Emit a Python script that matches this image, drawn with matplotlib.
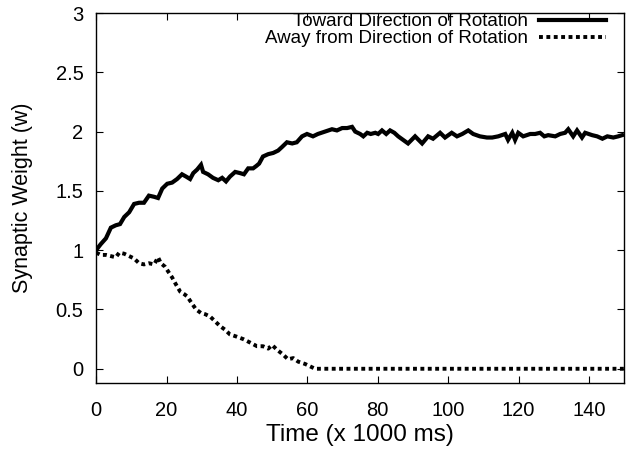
import matplotlib
matplotlib.use("Agg")
import matplotlib.pyplot as plt

plt.rcParams['font.family'] = ['Liberation Sans', 'DejaVu Sans']

# Toward direction of rotation (solid)
toward_t = [0, 1.3, 2.8, 4.2, 5.6, 6.8, 8.0, 9.4, 10.8, 12.2, 13.6, 15.0, 16.5, 17.6,
            18.8, 20.2, 21.6, 23.0, 24.4, 25.6, 26.7, 27.6, 28.7, 29.8, 30.4, 31.8,
            33.2, 34.7, 35.8, 36.9, 38.0, 39.5, 40.9, 42.0, 43.2, 44.6, 45.5, 46.3,
            47.4, 48.9, 50.3, 51.7, 52.8, 54.2, 55.7, 57.0, 58.5, 59.9, 61.6, 63.0,
            65.0, 67.0, 68.4, 69.9, 71.3, 72.7, 73.6, 75.0, 75.9, 77.0, 78.0, 79.3,
            80.1, 81.2, 82.4, 83.5, 84.7, 85.8, 87.2, 88.6, 90.6, 92.6, 94.3, 95.7,
            97.7, 99.1, 101.0, 102.5, 104.0, 105.7, 107.1, 109.0, 111.0, 112.5, 114.2,
            116.2, 117.0, 118.2, 119.0, 119.9, 121.3, 123.3, 124.7, 126.1, 127.3,
            128.4, 130.4, 131.8, 133.2, 134.1, 135.5, 136.6, 138.0, 138.9, 140.9,
            142.3, 143.8, 145.2, 146.9, 148.3, 149.4]
toward_w = [1.00, 1.05, 1.10, 1.19, 1.21, 1.22, 1.28, 1.32, 1.39, 1.40, 1.40, 1.46, 1.45, 1.44,
            1.52, 1.56, 1.57, 1.60, 1.64, 1.62, 1.60, 1.65, 1.68, 1.72, 1.66, 1.64,
            1.61, 1.59, 1.61, 1.58, 1.62, 1.66, 1.65, 1.64, 1.69, 1.69, 1.71, 1.73,
            1.79, 1.81, 1.82, 1.84, 1.87, 1.91, 1.90, 1.91, 1.96, 1.98, 1.96, 1.98,
            2.00, 2.02, 2.01, 2.03, 2.03, 2.04, 2.00, 1.98, 1.96, 1.99, 1.98, 1.99,
            1.98, 2.01, 1.98, 2.01, 1.99, 1.96, 1.93, 1.90, 1.96, 1.90, 1.96, 1.94,
            1.99, 1.95, 1.99, 1.96, 1.98, 2.01, 1.98, 1.96, 1.95, 1.95, 1.96,
            1.98, 1.93, 1.99, 1.93, 1.99, 1.96, 1.98, 1.98, 1.99, 1.96,
            1.97, 1.96, 1.98, 1.99, 2.02, 1.96, 2.01, 1.95, 1.99, 1.97,
            1.96, 1.94, 1.96, 1.95, 1.96, 1.97]

# Away from direction of rotation (dotted)
away_t = [0, 1.3, 2.8, 4.2, 5.6, 6.6, 8.0, 9.4, 10.8, 12.2, 13.6, 15.0, 16.5, 17.6,
          18.4, 19.6, 20.7, 21.6, 22.7, 23.9, 25.0, 25.9, 27.0, 28.4, 29.8, 31.0,
          32.4, 33.8, 35.2, 36.6, 38.0, 40.0, 41.8, 43.8, 45.7, 47.4, 48.9, 50.0,
          51.4, 53.1, 54.5, 56.0, 57.4, 59.4, 60.8, 62.2, 150.0]
away_w = [0.98, 0.96, 0.96, 0.95, 0.94, 0.98, 0.97, 0.95, 0.93, 0.89, 0.88, 0.89, 0.88, 0.94,
          0.89, 0.86, 0.81, 0.77, 0.71, 0.65, 0.63, 0.61, 0.56, 0.50, 0.47, 0.46,
          0.44, 0.40, 0.36, 0.33, 0.29, 0.27, 0.25, 0.22, 0.19, 0.19, 0.17, 0.20,
          0.16, 0.12, 0.08, 0.09, 0.06, 0.04, 0.02, 0.00, 0.00]

xticks = [0, 20, 40, 60, 80, 100, 120, 140]
yticks = [0, 0.5, 1, 1.5, 2, 2.5, 3]
ytick_labels = ['0', '0.5', '1', '1.5', '2', '2.5', '3']

fig = plt.figure(figsize=(6.28, 4.49), dpi=100)
ax = fig.add_axes([0.153, 0.147, 0.841, 0.824])

ax.plot(toward_t, toward_w, color='black', linewidth=3.0, solid_joinstyle='miter',
        label='Toward Direction of Rotation')
ax.plot(away_t, away_w, color='black', linewidth=2.8, linestyle=(0, (1, 0.9)),
        dash_capstyle='butt', label='Away from Direction of Rotation')

ax.set_xlim(0, 150)
ax.set_ylim(-0.12, 3)
ax.set_xticks(xticks)
ax.set_xticklabels([str(v) for v in xticks])
ax.set_yticks(yticks)
ax.set_yticklabels(ytick_labels)
ax.tick_params(direction='in', top=True, right=True, length=5, width=0.8,
               labelsize=14.5, colors='black')
ax.tick_params(axis='x', pad=13)
ax.tick_params(axis='y', pad=9)
for s in ax.spines.values():
    s.set_linewidth(1.0)

ax.set_xlabel('Time (x 1000 ms)', fontsize=17.5, labelpad=3)
ax.set_ylabel('Synaptic Weight (w)', fontsize=15.5, labelpad=16)

leg = ax.legend(loc='upper right', bbox_to_anchor=(0.966, 1.0), frameon=False,
                markerfirst=False, fontsize=13.5,
                handlelength=3.6, handletextpad=0.6, borderaxespad=0.0,
                labelspacing=0.0, borderpad=0.0)
for t in leg.get_texts():
    t.set_ha('right')
leg._legend_box.align = 'right'

fig.savefig('out.png', dpi=100)
